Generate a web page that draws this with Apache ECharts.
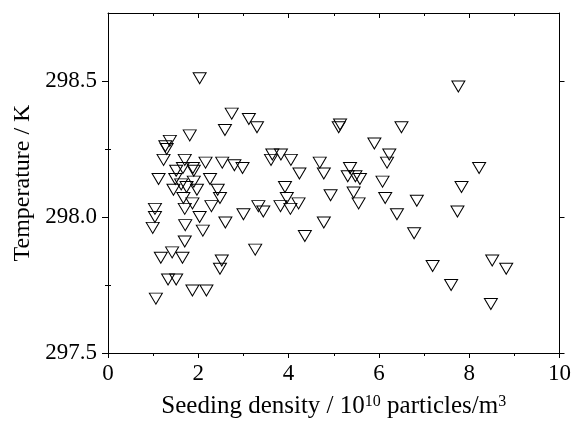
<!DOCTYPE html>
<html><head><meta charset="utf-8">
<script src="https://cdn.jsdelivr.net/npm/echarts@6/dist/echarts.min.js"></script>
<style>html,body{margin:0;padding:0;background:#fff}#c{width:574px;height:432px}</style>
</head><body><div id="c"></div>
<script>
// Seeding density (10^10 particles/m^3)
const seedingDensity = [
  2.74,3.12,3.30,2.59,1.81,1.37,1.27,1.30,1.23,1.70,2.16,2.53,2.80,2.98,3.64,3.83,3.61,4.05,4.24,
  1.51,1.66,1.88,1.90,1.12,1.49,2.26,1.62,1.90,1.45,1.74,1.97,2.43,1.67,2.48,1.87,2.29,
  3.92,3.96,3.82,4.04,4.22,3.33,3.44,1.04,1.04,0.99,1.70,2.03,1.71,2.10,2.60,3.00,1.70,3.26,
  1.17,1.42,1.65,2.52,2.48,1.33,1.51,1.87,2.18,1.06,2.03,
  5.14,5.11,6.50,5.90,6.23,6.18,4.69,4.78,5.36,5.31,5.48,5.58,6.08,4.93,5.44,5.55,6.14,6.84,6.40,4.78,4.36,6.78,
  8.22,7.83,7.74,7.19,8.51,8.82,7.60,8.48,7.76
];
// Temperature (K)
const temperature = [
  298.38,298.36,298.33,298.32,298.30,298.28,298.26,298.25,298.21,298.21,298.20,298.20,298.19,298.18,298.23,298.23,298.21,298.21,298.16,
  298.17,298.18,298.18,298.17,298.14,298.14,298.14,298.12,298.13,298.10,298.11,298.10,298.10,298.07,298.07,298.05,298.04,
  298.11,298.07,298.04,298.03,298.05,298.04,298.02,298.03,298.00,297.96,298.03,298.00,297.97,297.95,297.98,298.01,297.91,297.88,
  297.85,297.87,297.85,297.84,297.81,297.77,297.77,297.73,297.73,297.70,298.51,
  298.34,298.33,298.33,298.27,298.23,298.20,298.20,298.16,298.18,298.15,298.15,298.14,298.13,298.08,298.09,298.05,298.07,298.06,298.01,297.98,297.93,297.94,
  298.18,298.11,298.02,297.82,297.84,297.81,297.75,297.68,298.48
];
const yMajorTicks = [297.5, 298.0, 298.5];
const yMinorTicks = [297.75, 298.25];

const FONT = '"Liberation Serif", "Times New Roman", serif';
const data = seedingDensity.map((x, i) => [x, temperature[i]]);
const black = {color: '#000', width: 1};

const chart = echarts.init(document.getElementById('c'), null, {renderer: 'canvas'});
chart.setOption({
  animation: false,
  backgroundColor: '#fff',
  grid: {left: 108, right: 12, top: 13, bottom: 79},
  xAxis: [
    {
      type: 'value', position: 'bottom', min: 0, max: 10, interval: 2,
      axisLine: {onZero: false, lineStyle: black},
      axisTick: {length: 5, lineStyle: black},
      minorTick: {show: true, splitNumber: 2, length: 3, lineStyle: black},
      splitLine: {show: false},
      axisLabel: {fontFamily: FONT, fontSize: 23, color: '#000', margin: 9},
      name: '{a|Seeding density / 10}{s|10}{a| particles/m}{s|3}',
      nameLocation: 'middle', nameGap: 41,
      nameTextStyle: {
        rich: {
          a: {fontFamily: FONT, fontSize: 25, color: '#000'},
          s: {fontFamily: FONT, fontSize: 16, color: '#000', verticalAlign: 'top'}
        }
      }
    },
    {
      type: 'value', position: 'top', min: 0, max: 10, interval: 2,
      axisLine: {onZero: false, lineStyle: black},
      axisTick: {inside: true, length: 5, lineStyle: black},
      minorTick: {show: true, splitNumber: 2, length: 3, lineStyle: black},
      splitLine: {show: false},
      axisLabel: {show: false}
    }
  ],
  yAxis: [
    {
      type: 'value', position: 'left', min: 297.5, max: 298.75,
      axisLine: {onZero: false, lineStyle: black},
      axisTick: {customValues: yMajorTicks, length: 6, lineStyle: black},
      splitLine: {show: false},
      axisLabel: {customValues: yMajorTicks, formatter: v => v.toFixed(1),
        fontFamily: FONT, fontSize: 23, color: '#000', margin: 11},
      name: 'Temperature / K', nameLocation: 'middle', nameGap: 70,
      nameTextStyle: {fontFamily: FONT, fontSize: 24, color: '#000'}
    },
    {
      type: 'value', position: 'left', min: 297.5, max: 298.75,
      axisLine: {show: false},
      axisTick: {customValues: yMinorTicks, length: 3, lineStyle: black},
      splitLine: {show: false}, axisLabel: {show: false}
    },
    {
      type: 'value', position: 'right', min: 297.5, max: 298.75,
      axisLine: {onZero: false, lineStyle: black},
      axisTick: {customValues: yMajorTicks, length: 5, lineStyle: black},
      splitLine: {show: false}, axisLabel: {show: false}
    },
    {
      type: 'value', position: 'right', min: 297.5, max: 298.75,
      axisLine: {show: false},
      axisTick: {customValues: yMinorTicks, length: 3, lineStyle: black},
      splitLine: {show: false}, axisLabel: {show: false}
    }
  ],
  series: [{
    type: 'scatter', xAxisIndex: 0, yAxisIndex: 0,
    data: data,
    symbol: 'triangle', symbolRotate: 180, symbolSize: [13, 11],
    itemStyle: {color: 'rgba(0,0,0,0)', borderColor: '#000', borderWidth: 1, opacity: 1},
    silent: true
  }]
});
</script>
</body></html>
